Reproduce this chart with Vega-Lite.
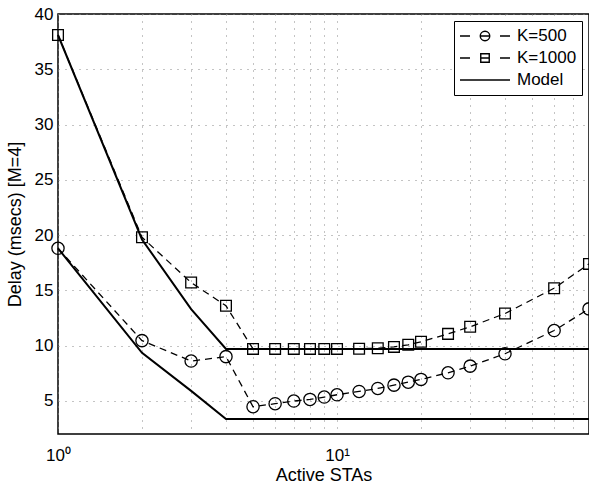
{
  "$schema": "https://vega.github.io/schema/vega-lite/v6.json",
  "autosize": {"type": "none"},
  "padding": {"left": 58, "top": 14, "right": 0, "bottom": 51},
  "width": 531,
  "height": 420,
  "background": "white",
  "config": {
    "font": "Liberation Sans",
    "view": {"stroke": "black", "strokeWidth": 1.5},
    "axis": {
      "labelFont": "Liberation Sans",
      "titleFont": "Liberation Sans",
      "labelColor": "black",
      "titleColor": "black",
      "labelFontSize": 17,
      "titleFontSize": 18,
      "titleFontWeight": "normal",
      "domain": false,
      "ticks": false,
      "grid": true,
      "gridColor": "#888",
      "gridDash": [1, 6],
      "gridWidth": 1
    },
    "legend": {
      "labelFont": "Liberation Sans",
      "labelFontSize": 17,
      "labelColor": "black"
    }
  },
  "datasets": {
    "measured": [
      {"sta": 1, "delay": 18.8, "series": "K=500"},
      {"sta": 2, "delay": 10.45, "series": "K=500"},
      {"sta": 3, "delay": 8.6, "series": "K=500"},
      {"sta": 4, "delay": 9.0, "series": "K=500"},
      {"sta": 5, "delay": 4.47, "series": "K=500"},
      {"sta": 6, "delay": 4.74, "series": "K=500"},
      {"sta": 7, "delay": 4.98, "series": "K=500"},
      {"sta": 8, "delay": 5.13, "series": "K=500"},
      {"sta": 9, "delay": 5.34, "series": "K=500"},
      {"sta": 10, "delay": 5.55, "series": "K=500"},
      {"sta": 12, "delay": 5.85, "series": "K=500"},
      {"sta": 14, "delay": 6.12, "series": "K=500"},
      {"sta": 16, "delay": 6.42, "series": "K=500"},
      {"sta": 18, "delay": 6.69, "series": "K=500"},
      {"sta": 20, "delay": 6.94, "series": "K=500"},
      {"sta": 25, "delay": 7.54, "series": "K=500"},
      {"sta": 30, "delay": 8.14, "series": "K=500"},
      {"sta": 40, "delay": 9.26, "series": "K=500"},
      {"sta": 60, "delay": 11.36, "series": "K=500"},
      {"sta": 80, "delay": 13.32, "series": "K=500"},
      {"sta": 1, "delay": 38.1, "series": "K=1000"},
      {"sta": 2, "delay": 19.8, "series": "K=1000"},
      {"sta": 3, "delay": 15.7, "series": "K=1000"},
      {"sta": 4, "delay": 13.6, "series": "K=1000"},
      {"sta": 5, "delay": 9.7, "series": "K=1000"},
      {"sta": 6, "delay": 9.7, "series": "K=1000"},
      {"sta": 7, "delay": 9.7, "series": "K=1000"},
      {"sta": 8, "delay": 9.7, "series": "K=1000"},
      {"sta": 9, "delay": 9.7, "series": "K=1000"},
      {"sta": 10, "delay": 9.7, "series": "K=1000"},
      {"sta": 12, "delay": 9.72, "series": "K=1000"},
      {"sta": 14, "delay": 9.76, "series": "K=1000"},
      {"sta": 16, "delay": 9.88, "series": "K=1000"},
      {"sta": 18, "delay": 10.07, "series": "K=1000"},
      {"sta": 20, "delay": 10.34, "series": "K=1000"},
      {"sta": 25, "delay": 11.06, "series": "K=1000"},
      {"sta": 30, "delay": 11.7, "series": "K=1000"},
      {"sta": 40, "delay": 12.9, "series": "K=1000"},
      {"sta": 60, "delay": 15.19, "series": "K=1000"},
      {"sta": 80, "delay": 17.39, "series": "K=1000"}
    ],
    "model": [
      {"sta": 1, "delay": 38.1, "curve": "K=1000", "series": "Model"},
      {"sta": 2, "delay": 19.6, "curve": "K=1000", "series": "Model"},
      {"sta": 3, "delay": 13.3, "curve": "K=1000", "series": "Model"},
      {"sta": 4, "delay": 9.7, "curve": "K=1000", "series": "Model"},
      {"sta": 80, "delay": 9.7, "curve": "K=1000", "series": "Model"},
      {"sta": 1, "delay": 18.8, "curve": "K=500", "series": "Model"},
      {"sta": 2, "delay": 9.35, "curve": "K=500", "series": "Model"},
      {"sta": 3, "delay": 5.9, "curve": "K=500", "series": "Model"},
      {"sta": 4, "delay": 3.35, "curve": "K=500", "series": "Model"},
      {"sta": 80, "delay": 3.35, "curve": "K=500", "series": "Model"}
    ]
  },
  "encoding": {
    "x": {
      "field": "sta",
      "type": "quantitative",
      "scale": {"type": "log", "domain": [1, 80], "nice": false},
      "axis": {
        "title": "Active STAs",
        "values": [1, 2, 3, 4, 5, 6, 7, 8, 9, 10, 20, 30, 40, 50, 60, 70, 80],
        "labelExpr": "datum.value == 1 ? '10⁰' : (datum.value == 10 ? '10¹' : '')",
        "labelPadding": 13,
        "labelOverlap": false,
        "labelFlush": false,
        "titlePadding": 3
      }
    },
    "y": {
      "field": "delay",
      "type": "quantitative",
      "scale": {"domain": [2, 40], "nice": false, "zero": false},
      "axis": {
        "title": "Delay (msecs) [M=4]",
        "values": [5, 10, 15, 20, 25, 30, 35, 40],
        "labelPadding": 5,
        "titlePadding": 10
      }
    }
  },
  "layer": [
    {
      "data": {"name": "model"},
      "mark": {"type": "line", "color": "black", "strokeWidth": 2},
      "encoding": {
        "detail": {"field": "curve"}
      }
    },
    {
      "data": {"name": "measured"},
      "mark": {"type": "line", "color": "black", "strokeWidth": 1.3, "strokeDash": [7, 5]},
      "encoding": {
        "detail": {"field": "series"}
      }
    },
    {
      "data": {"name": "measured"},
      "transform": [{"filter": "datum.series === 'K=500'"}],
      "mark": {"type": "point", "shape": "circle", "size": 150, "filled": false, "color": "black", "strokeWidth": 1.3, "opacity": 1},
      "encoding": {}
    },
    {
      "data": {"name": "measured"},
      "transform": [{"filter": "datum.series === 'K=1000'"}],
      "mark": {"type": "point", "shape": "square", "size": 115, "filled": false, "color": "black", "strokeWidth": 1.3, "opacity": 1},
      "encoding": {}
    },
    {
      "data": {"name": "model"},
      "mark": {"type": "point", "filled": false, "color": "black", "strokeWidth": 1.4, "opacity": 0},
      "encoding": {
        "shape": {
          "field": "series",
          "type": "nominal",
          "scale": {
            "domain": ["K=500", "K=1000", "Model"],
            "range": [
              "M-1,0H-0.6M-0.19,0A0.19,0.19 0 1,1 0.19,0A0.19,0.19 0 1,1 -0.19,0M-0.19,0H0.19M0.6,0H1",
              "M-1,0H-0.6M-0.17,-0.17H0.17V0.17H-0.17ZM-0.17,0H0.17M0.6,0H1",
              "M-1,0H1"
            ]
          },
          "legend": {
            "title": null,
            "orient": "top-right",
            "offset": 7,
            "padding": 5,
            "strokeColor": "black",
            "fillColor": "white",
            "symbolSize": 2500,
            "symbolOpacity": 1,
            "symbolStrokeColor": "black",
            "symbolFillColor": "transparent",
            "symbolStrokeWidth": 1.4,
            "clipHeight": 20,
            "rowPadding": 2,
            "labelOffset": 6,
            "symbolOffset": 0
          }
        }
      }
    }
  ]
}
